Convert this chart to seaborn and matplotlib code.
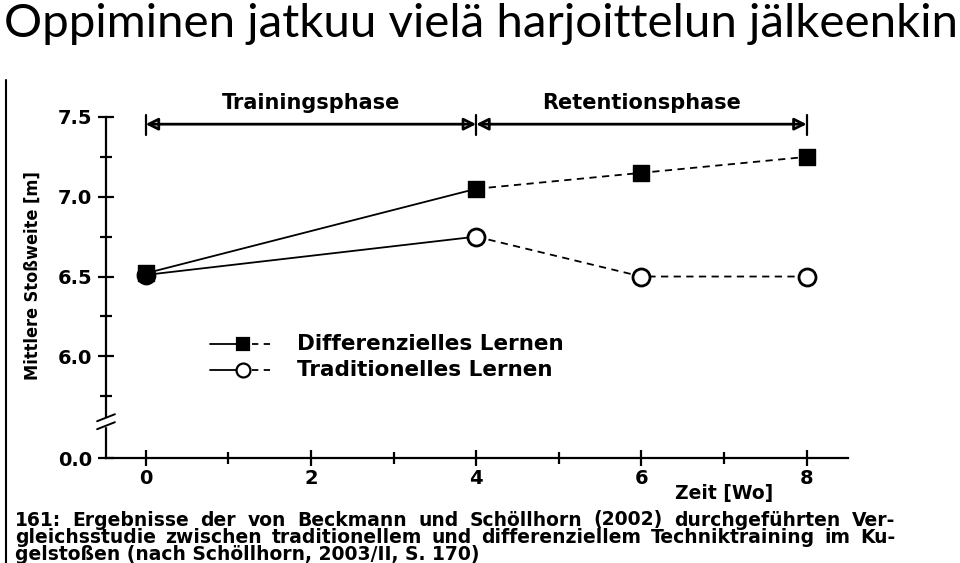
import matplotlib
matplotlib.use("Agg")
import matplotlib.pyplot as plt
import matplotlib.transforms as mtransforms
from matplotlib.lines import Line2D
import seaborn as sns
import numpy as np

# ---- data ----
weeks = [0, 4, 6, 8]
diff_values = [6.52, 7.05, 7.15, 7.25]
trad_values = [6.51, 6.75, 6.50, 6.50]
series_names = ["Differenzielles Lernen", "Traditionelles Lernen"]
y_ticks = [6.0, 6.5, 7.0, 7.5]
y_tick_labels = ["6.0", "6.5", "7.0", "7.5"]
x_ticks = [0, 2, 4, 6, 8]
phase_names = ["Trainingsphase", "Retentionsphase"]
phase_bounds = [0, 4, 8]
title = "Oppiminen jatkuu vielä harjoittelun jälkeenkin"
caption_lines = [
    "161: Ergebnisse der von Beckmann und Schöllhorn (2002) durchgeführten Ver-",
    "gleichsstudie zwischen traditionellem und differenziellem Techniktraining im Ku-",
    "gelstoßen (nach Schöllhorn, 2003/II, S. 170)",
]
zero_label = "0.0"
zero_pos = 5.3625  # bottom of broken axis, labelled 0.0

sns.set_theme(style="white")
plt.rcParams["font.family"] = ["DejaVu Sans"]
plt.rcParams["text.color"] = "black"
plt.rcParams["axes.labelcolor"] = "black"
plt.rcParams["xtick.color"] = "black"
plt.rcParams["ytick.color"] = "black"

fig = plt.figure(figsize=(9.6, 5.63), dpi=100)
ax = fig.add_axes([106 / 960, 1 - 458 / 563, (848 - 106) / 960, (458 - 117) / 563])
ax.set_facecolor("white")

# lines: solid for training, dashed for retention
for vals in (diff_values, trad_values):
    sns.lineplot(x=weeks[:2], y=vals[:2], ax=ax, color="black", lw=1.3,
                 estimator=None, sort=False)
    sns.lineplot(x=weeks[1:], y=vals[1:], ax=ax, color="black", lw=1.3,
                 linestyle=(0, (4, 3)), estimator=None, sort=False)

# markers
sns.scatterplot(x=weeks, y=trad_values, ax=ax, marker="o", s=150,
                facecolor="white", edgecolor="black", linewidth=2, zorder=5)
ax.scatter(weeks[:1], trad_values[:1], marker="o", s=150, color="black", zorder=6)
sns.scatterplot(x=weeks, y=diff_values, ax=ax, marker="s", s=140,
                color="black", edgecolor="black", linewidth=1, zorder=7)

ax.set_xlim(-0.48, 8.5)
ax.set_ylim(zero_pos, 7.5)

for s in ("top", "right"):
    ax.spines[s].set_visible(False)
for s in ("left", "bottom"):
    ax.spines[s].set_color("black")
    ax.spines[s].set_linewidth(1.6)

ax.set_yticks([zero_pos] + y_ticks)
ax.set_yticklabels([zero_label] + y_tick_labels, fontsize=14, fontweight="bold")
ax.set_yticks([5.75, 6.25, 6.75, 7.25], minor=True)
ax.set_xticks(x_ticks)
ax.set_xticklabels([str(v) for v in x_ticks], fontsize=14, fontweight="bold")
ax.set_xticks([1, 3, 5, 7], minor=True)
ax.tick_params(axis="both", which="major", direction="inout", length=12, width=1.6,
               color="black", labelcolor="black", pad=4)
ax.tick_params(axis="both", which="minor", direction="inout", length=8, width=1.6,
               color="black")
ax.tick_params(axis="x", which="major", pad=2)
ax.tick_params(left=True, bottom=True, which="both")

# axis break
trans = mtransforms.blended_transform_factory(ax.transAxes, ax.transData)
ax.add_patch(plt.Rectangle((-0.02, 5.565), 0.04, 0.05, transform=trans,
                           color="white", clip_on=False, zorder=10))
for yb in (5.565, 5.615):
    ax.plot([-0.012, 0.012], [yb - 0.022, yb + 0.022], transform=trans,
            color="black", lw=1.4, clip_on=False, zorder=11)

# phase arrows
arrow_y = 7.455
for i in range(2):
    ax.annotate("", xy=(phase_bounds[i], arrow_y), xytext=(phase_bounds[i + 1], arrow_y),
                arrowprops=dict(arrowstyle="<|-|>", color="black", lw=2,
                                mutation_scale=18, shrinkA=0, shrinkB=0,
                                fill=False),
                annotation_clip=False)
    ax.text((phase_bounds[i] + phase_bounds[i + 1]) / 2, 7.585, phase_names[i],
            ha="center", va="center", fontsize=15, fontweight="bold", clip_on=False)
for xb in phase_bounds:
    ax.plot([xb, xb], [7.385, 7.51], color="black", lw=1.6, clip_on=False)

ax.set_ylabel("Mittlere Stoßweite [m]", fontsize=13, fontweight="bold",
              fontstretch="condensed", labelpad=14)
ax.yaxis.set_label_coords(-0.087, 0.535)

ax.text(0.767, -0.105, "Zeit [Wo]", transform=ax.transAxes, fontsize=13.5,
        fontweight="bold", ha="left", va="center")

# legend drawn by hand
leg_items = [("s", "black"), ("o", "white")]
for i, (name, (mk, fc)) in enumerate(zip(series_names, leg_items)):
    yy = 0.335 - i * 0.076
    ax.plot([0.14, 0.175], [yy, yy], transform=ax.transAxes, color="black", lw=1.3)
    ax.plot([0.197, 0.228], [yy, yy], transform=ax.transAxes, color="black", lw=1.3,
            linestyle=(0, (3.5, 3)))
    ax.plot([0.185], [yy], transform=ax.transAxes, marker=mk, markersize=9 if mk == "s" else 10,
            markerfacecolor=fc, markeredgecolor="black", markeredgewidth=1.6, linestyle="none")
    ax.text(0.258, yy, name, transform=ax.transAxes, fontsize=15.5, fontweight="bold",
            va="center", ha="left")

# title
fig.text(0.004, 0.995, title, fontsize=34.2, family=["Lato", "DejaVu Sans"],
         fontweight="normal", ha="left", va="top", color="black")

# scan border line
fig.add_artist(Line2D([6 / 960, 6 / 960], [0, 1 - 80 / 563], color="black", lw=1.5))

# caption (first two lines justified between x=15 and x=895)
renderer = fig.canvas.get_renderer()
x_left, x_right = 15, 895
cap_fs = 13.5
for i, line in enumerate(caption_lines):
    y = 1 - (525.5 + i * 17.5) / 563
    words = line.split(" ")
    if i < 2:
        texts = [fig.text(0, y, w, fontsize=cap_fs, fontweight="bold", ha="left",
                          va="baseline") for w in words]
        widths = [t.get_window_extent(renderer).width for t in texts]
        gap = (x_right - x_left - sum(widths)) / (len(words) - 1)
        xpos = x_left
        for t, w in zip(texts, widths):
            t.set_x(xpos / 960)
            xpos += w + gap
    else:
        fig.text(x_left / 960, y, line, fontsize=cap_fs, fontweight="bold",
                 ha="left", va="baseline")

fig.savefig("out.png", dpi=100, facecolor="white")
